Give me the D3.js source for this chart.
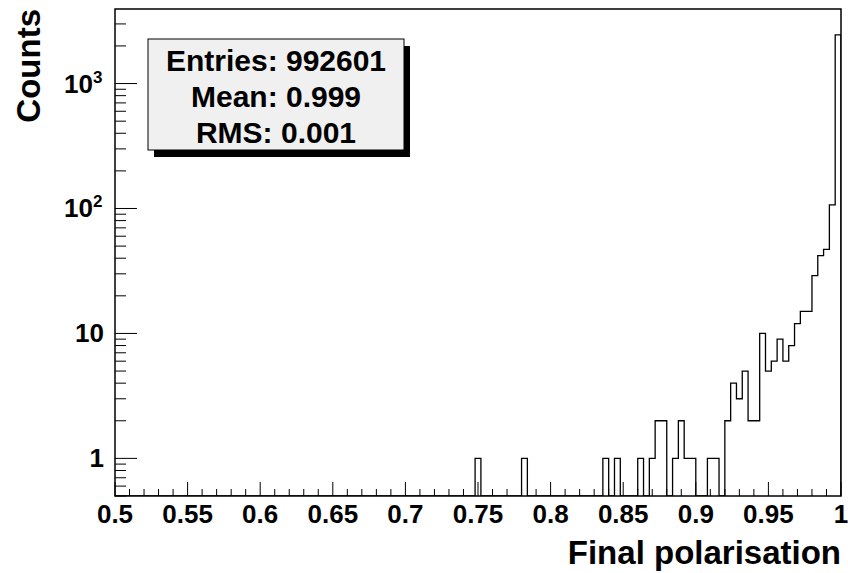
<!DOCTYPE html>
<html>
<head>
<meta charset="utf-8">
<script src="https://cdn.jsdelivr.net/npm/d3@7"></script>
<style>
  body { margin: 0; background: white; }
  svg { display: block; }
  text { font-family: "Liberation Sans", Arial, sans-serif; font-weight: bold; fill: black; }
</style>
</head>
<body>
<svg id="chart"></svg>
<script>
// histogram definition
var nBins = 125;
var xMin = 0.5;
var xMax = 1.0;

// non-empty bins (bin index) and their counts
var binIndex = [62, 70, 84, 86, 90, 92, 93, 94, 96, 97, 98, 99, 102, 103,
  105, 106, 107, 108, 109, 110, 111, 112, 113, 114, 115, 116, 117, 118, 119,
  120, 121, 122, 123, 124];
var binCount = [1, 1, 1, 1, 1, 1, 2, 2, 1, 2, 1, 1, 1, 1,
  2, 4, 3, 5, 2, 2, 10, 5, 6, 9, 6, 8, 12, 15, 15,
  29, 42, 47, 107, 2450];

var xTicks = [0.5, 0.55, 0.6, 0.65, 0.7, 0.75, 0.8, 0.85, 0.9, 0.95, 1];
var xTickLabels = ["0.5", "0.55", "0.6", "0.65", "0.7", "0.75", "0.8", "0.85", "0.9", "0.95", "1"];
var yDecades = [1, 10, 100, 1000];
var yDecadeLabels = [["1", ""], ["10", ""], ["10", "2"], ["10", "3"]];

var statsLines = ["Entries: 992601", "Mean: 0.999", "RMS: 0.001"];
var xTitle = "Final polarisation";
var yTitle = "Counts";

var W = 848, H = 573;
var plot = {left: 115, right: 841, top: 9, bottom: 496};

var svg = d3.select("#chart").attr("width", W).attr("height", H);

var x = d3.scaleLinear().domain([xMin, xMax]).range([plot.left, plot.right]);
var y = d3.scaleLog().domain([0.5, 3950]).range([plot.bottom, plot.top]);

// full bin contents
var counts = d3.range(nBins).map(function() { return 0; });
binIndex.forEach(function(b, i) { counts[b] = binCount[i]; });
var binW = (xMax - xMin) / nBins;

svg.append("clipPath").attr("id", "frameClip")
  .append("rect")
  .attr("x", plot.left).attr("y", plot.top)
  .attr("width", plot.right - plot.left).attr("height", plot.bottom - plot.top);

// step outline of the histogram
var pts = [];
counts.forEach(function(c, i) {
  var yy = c > 0 ? y(c) : plot.bottom;
  pts.push([x(xMin + i * binW), yy]);
  pts.push([x(xMin + (i + 1) * binW), yy]);
});
pts.unshift([plot.left, plot.bottom]);
pts.push([plot.right, plot.bottom]);

svg.append("path")
  .attr("clip-path", "url(#frameClip)")
  .attr("d", d3.line()(pts))
  .attr("fill", "none")
  .attr("stroke", "black")
  .attr("stroke-width", 1.3);

// x ticks (pointing up into the frame)
var xMinor = d3.range(0, 51).map(function(i) { return xMin + i * 0.01; });
svg.append("g").selectAll("line").data(xMinor).enter().append("line")
  .attr("x1", function(d) { return x(d); })
  .attr("x2", function(d) { return x(d); })
  .attr("y1", plot.bottom)
  .attr("y2", function(d, i) { return plot.bottom - (i % 5 == 0 ? 14 : 7); })
  .attr("stroke", "black").attr("stroke-width", 1);

svg.append("g").selectAll("text").data(xTicks).enter().append("text")
  .attr("x", function(d) { return x(d); })
  .attr("y", 523)
  .attr("text-anchor", "middle")
  .attr("font-size", 26)
  .text(function(d, i) { return xTickLabels[i]; });

// y ticks (log, pointing right)
var yMinor = [];
[0.1, 1, 10, 100, 1000].forEach(function(dec) {
  for (var k = 1; k <= 9; k++) {
    var v = dec * k;
    if (v >= 0.5 && v <= 3950) yMinor.push({v: v, major: k == 1});
  }
});
svg.append("g").selectAll("line").data(yMinor).enter().append("line")
  .attr("x1", plot.left)
  .attr("x2", function(d) { return plot.left + (d.major ? 22 : 11); })
  .attr("y1", function(d) { return y(d.v); })
  .attr("y2", function(d) { return y(d.v); })
  .attr("stroke", "black").attr("stroke-width", 1);

var yl = svg.append("g").selectAll("text").data(yDecades).enter().append("text")
  .attr("x", function(d, i) { return yDecadeLabels[i][1] ? 93 : 104; })
  .attr("y", function(d) { return y(d) + 9; })
  .attr("text-anchor", "end")
  .attr("font-size", 26)
  .text(function(d, i) { return yDecadeLabels[i][0]; });
svg.append("g").selectAll("text").data(yDecades).enter().append("text")
  .attr("x", 93)
  .attr("y", function(d) { return y(d) - 1; })
  .attr("font-size", 17)
  .text(function(d, i) { return yDecadeLabels[i][1]; });

// frame
svg.append("rect")
  .attr("x", plot.left).attr("y", plot.top)
  .attr("width", plot.right - plot.left).attr("height", plot.bottom - plot.top)
  .attr("fill", "none").attr("stroke", "black").attr("stroke-width", 1.5);

// axis titles
svg.append("text")
  .attr("x", plot.right)
  .attr("y", 564)
  .attr("text-anchor", "end")
  .attr("font-size", 33)
  .text(xTitle);

svg.append("text")
  .attr("transform", "translate(40," + plot.top + ") rotate(-90)")
  .attr("text-anchor", "end")
  .attr("font-size", 33)
  .text(yTitle);

// stats box with shadow
var box = {x: 148, y: 39, w: 256, h: 111};
svg.append("rect")
  .attr("x", box.x + 6).attr("y", box.y + 7)
  .attr("width", box.w).attr("height", box.h)
  .attr("fill", "black");
svg.append("rect")
  .attr("x", box.x).attr("y", box.y)
  .attr("width", box.w).attr("height", box.h)
  .attr("fill", "#f0f0f0").attr("stroke", "black").attr("stroke-width", 1);
svg.append("g").selectAll("text").data(statsLines).enter().append("text")
  .attr("x", box.x + box.w / 2)
  .attr("y", function(d, i) { return box.y + 32 + i * 36; })
  .attr("text-anchor", "middle")
  .attr("font-size", 30)
  .text(function(d) { return d; });
</script>
</body>
</html>
